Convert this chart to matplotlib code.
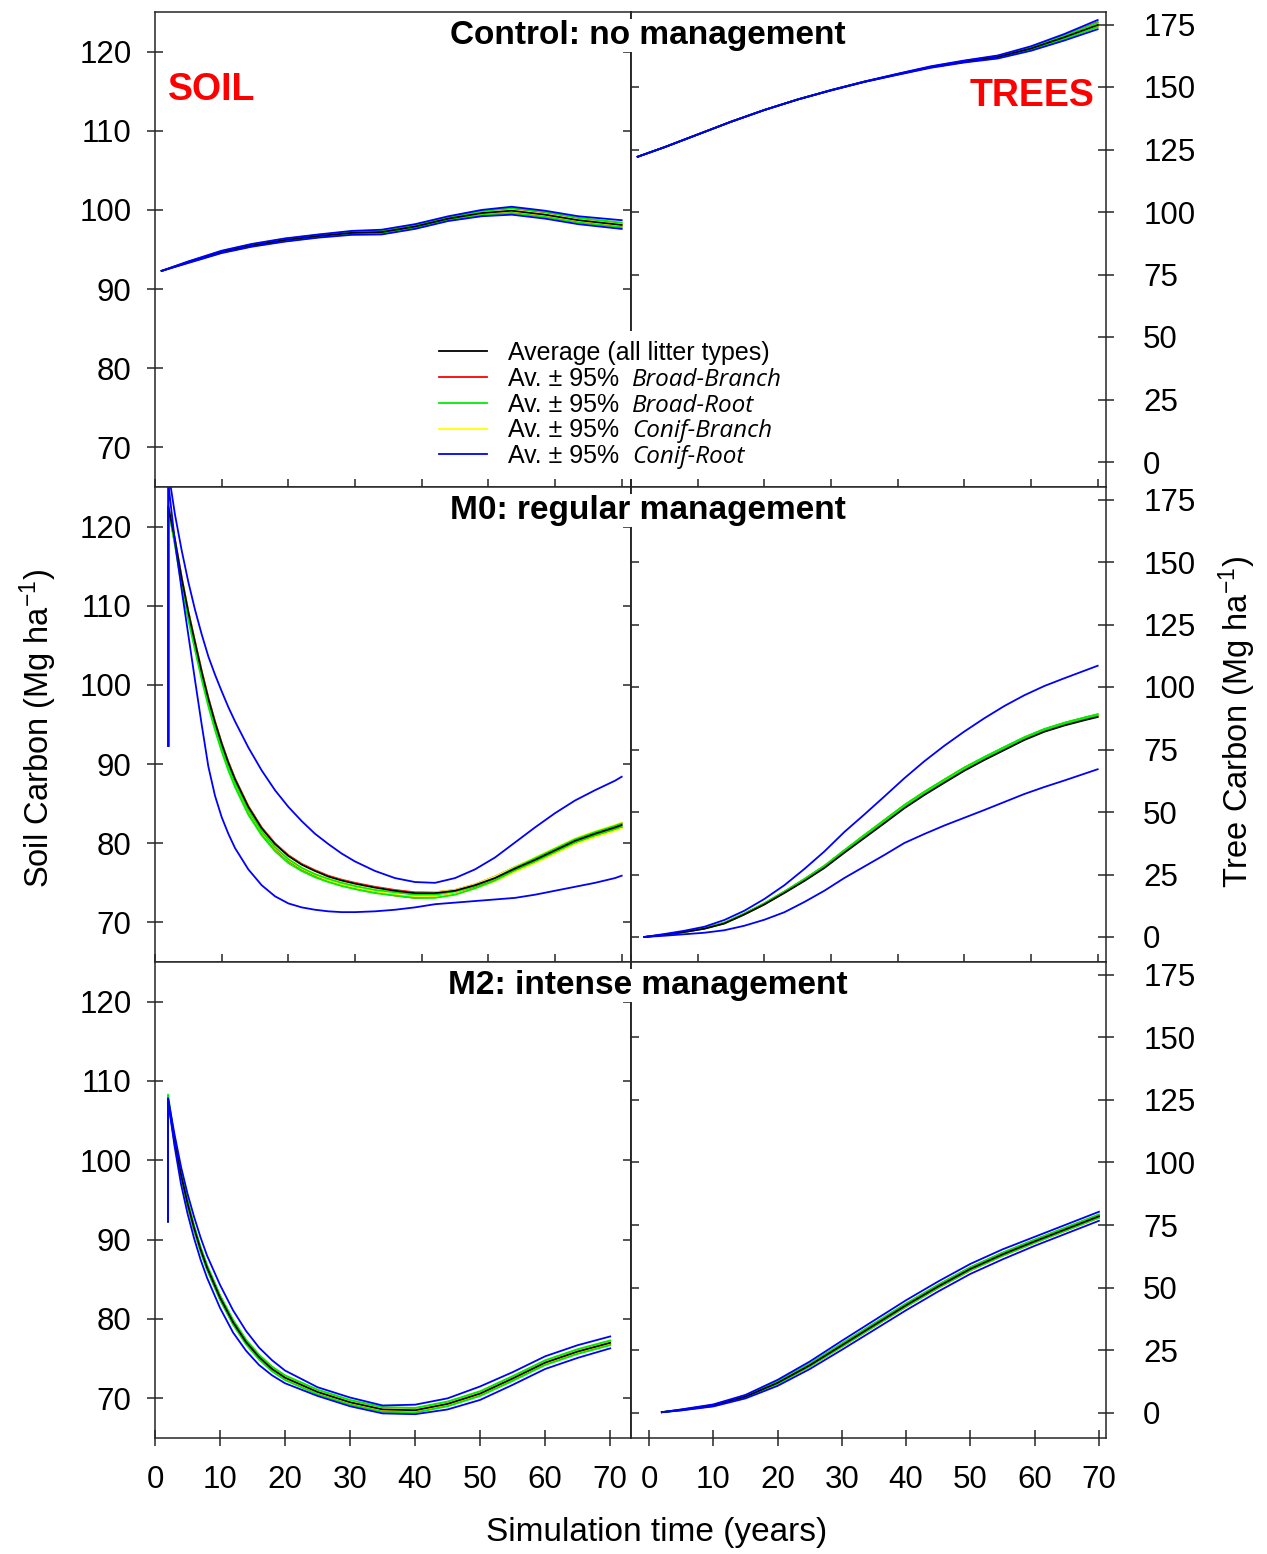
import matplotlib
matplotlib.use("Agg")
import matplotlib.pyplot as plt
from matplotlib.lines import Line2D

plt.rcParams['font.family'] = ['Liberation Sans', 'DejaVu Sans']
plt.rcParams['mathtext.fontset'] = 'custom'
plt.rcParams['mathtext.rm'] = 'Liberation Sans'
plt.rcParams['mathtext.it'] = 'Liberation Sans:italic'

# ---------------- data ----------------
ROW_TITLES = ["Control: no management", "M0: regular management", "M2: intense management"]
LEGEND_LABELS = ["Average (all litter types)", "Av. ± 95%", "Av. ± 95%", "Av. ± 95%", "Av. ± 95%"]
LEGEND_ITALIC = ["", "Broad-Branch", "Broad-Root", "Conif-Branch", "Conif-Root"]
SOIL_YTICKS = [70, 80, 90, 100, 110, 120]
TREE_YTICKS = [0, 25, 50, 75, 100, 125, 150, 175]
XTICKS = [0, 10, 20, 30, 40, 50, 60, 70]

# Control: soil
CTRL_SOIL_X = [1, 5, 10, 14.5, 19.5, 24.5, 29.5, 34, 39, 44, 49, 53.5, 58.5, 63.5, 70]
CTRL_SOIL_AVG = [92.3, 93.4, 94.7, 95.5, 96.2, 96.7, 97.1, 97.2, 97.9, 98.9, 99.6, 99.9, 99.4, 98.7, 98.1]
CTRL_SOIL_BB_HI = [92.3, 93.45, 94.75, 95.6, 96.3, 96.8, 97.2, 97.3, 98.0, 99.0, 99.8, 100.1, 99.6, 98.9, 98.3]
CTRL_SOIL_BB_LO = [92.3, 93.35, 94.65, 95.45, 96.1, 96.6, 97.0, 97.1, 97.8, 98.8, 99.4, 99.7, 99.2, 98.5, 97.9]
CTRL_SOIL_BR_HI = [92.3, 93.45, 94.8, 95.65, 96.35, 96.85, 97.25, 97.35, 98.05, 99.05, 99.85, 100.25, 99.75, 99.0, 98.4]
CTRL_SOIL_BR_LO = [92.3, 93.35, 94.6, 95.4, 96.05, 96.55, 96.95, 97.05, 97.75, 98.75, 99.35, 99.6, 99.1, 98.4, 97.8]
CTRL_SOIL_CB_HI = [92.3, 93.45, 94.75, 95.55, 96.25, 96.75, 97.15, 97.3, 97.95, 98.95, 99.7, 100.0, 99.5, 98.8, 98.2]
CTRL_SOIL_CB_LO = [92.3, 93.35, 94.65, 95.45, 96.15, 96.65, 97.05, 97.1, 97.85, 98.85, 99.5, 99.8, 99.3, 98.6, 98.0]
CTRL_SOIL_CR_HI = [92.3, 93.5, 94.85, 95.7, 96.4, 96.9, 97.35, 97.5, 98.2, 99.2, 100.0, 100.4, 99.9, 99.2, 98.7]
CTRL_SOIL_CR_LO = [92.3, 93.3, 94.55, 95.35, 96.0, 96.5, 96.85, 96.9, 97.6, 98.6, 99.2, 99.4, 98.9, 98.2, 97.6]

# Control: trees
CTRL_TREE_X = [1, 5, 10, 15, 20, 25, 30, 35, 40, 45, 50, 55, 60, 65, 70]
CTRL_TREE_AVG = [122.1, 125.9, 131.0, 136.1, 140.8, 145.0, 148.7, 152.1, 155.1, 158.0, 160.2, 162.0, 165.4, 169.9, 174.8]
CTRL_TREE_BB_HI = [122.1, 125.9, 131.0, 136.1, 140.8, 145.0, 148.7, 152.1, 155.2, 158.1, 160.4, 162.4, 165.9, 170.6, 175.9]
CTRL_TREE_BB_LO = [122.1, 125.9, 131.0, 136.1, 140.8, 145.0, 148.7, 152.1, 155.0, 157.9, 160.0, 161.7, 165.0, 169.4, 174.2]
CTRL_TREE_BR_HI = [122.1, 125.9, 131.0, 136.1, 140.8, 145.0, 148.7, 152.1, 155.2, 158.1, 160.4, 162.3, 165.8, 170.5, 175.7]
CTRL_TREE_BR_LO = [122.1, 125.9, 131.0, 136.1, 140.8, 145.0, 148.7, 152.1, 155.0, 157.9, 160.0, 161.6, 164.9, 169.2, 174.0]
CTRL_TREE_CB_HI = [122.1, 125.9, 131.0, 136.1, 140.8, 145.0, 148.7, 152.1, 155.2, 158.1, 160.3, 162.2, 165.7, 170.3, 175.5]
CTRL_TREE_CB_LO = [122.1, 125.9, 131.0, 136.1, 140.8, 145.0, 148.7, 152.1, 155.0, 157.9, 160.1, 161.8, 165.1, 169.5, 174.3]
CTRL_TREE_CR_HI = [122.1, 125.9, 131.0, 136.1, 140.8, 145.0, 148.8, 152.2, 155.3, 158.3, 160.6, 162.6, 166.3, 171.2, 176.8]
CTRL_TREE_CR_LO = [122.1, 125.9, 131.0, 136.1, 140.8, 145.0, 148.6, 152.0, 154.9, 157.7, 159.8, 161.4, 164.5, 168.6, 173.1]

# M0: soil
M0_SOIL_X = [2, 2, 3, 4, 5, 6, 7, 8, 9, 10, 11, 12, 14, 16, 18, 20, 22, 24, 26, 28, 30, 33, 36, 39,
             42, 45, 48, 51, 54, 57, 60, 63, 66, 69, 70]
M0_SOIL_AVG = [92.3, 122.5, 118.3, 113.5, 109.2, 105.4, 101.7, 98.3, 95.3, 92.6, 90.2, 88.1, 84.6, 81.9,
               79.9, 78.4, 77.3, 76.5, 75.8, 75.3, 74.9, 74.4, 74.0, 73.7, 73.7, 74.0, 74.7, 75.6, 76.8,
               77.9, 79.1, 80.3, 81.2, 82.0, 82.3]
M0_SOIL_BB_HI = [92.3, 122.6, 118.4, 113.6, 109.3, 105.5, 101.8, 98.4, 95.4, 92.7, 90.3, 88.2, 84.7, 82.0,
                 80.0, 78.5, 77.4, 76.6, 75.9, 75.4, 75.0, 74.5, 74.1, 73.8, 73.8, 74.1, 74.8, 75.8, 77.0,
                 78.1, 79.3, 80.5, 81.4, 82.2, 82.5]
M0_SOIL_BB_LO = [92.3, 122.4, 117.8, 112.9, 108.6, 104.8, 101.1, 97.7, 94.7, 92.0, 89.6, 87.5, 84.0, 81.3,
                 79.3, 77.8, 76.7, 75.9, 75.2, 74.7, 74.3, 73.8, 73.4, 73.1, 73.2, 73.6, 74.4, 75.3, 76.5,
                 77.6, 78.8, 80.0, 80.9, 81.7, 82.0]
M0_SOIL_BR_HI = [92.3, 122.5, 118.0, 113.2, 108.9, 105.1, 101.3, 97.9, 94.9, 92.2, 89.8, 87.7, 84.2, 81.5,
                 79.5, 78.0, 76.9, 76.1, 75.5, 75.0, 74.6, 74.1, 73.8, 73.5, 73.5, 73.9, 74.6, 75.6, 76.9,
                 78.1, 79.3, 80.5, 81.4, 82.2, 82.5]
M0_SOIL_BR_LO = [92.3, 122.3, 117.6, 112.5, 108.2, 104.4, 100.7, 97.3, 94.3, 91.6, 89.2, 87.1, 83.6, 81.0,
                 79.0, 77.5, 76.5, 75.7, 75.1, 74.6, 74.2, 73.7, 73.4, 73.1, 73.1, 73.5, 74.3, 75.3, 76.6,
                 77.7, 78.9, 80.1, 81.0, 81.8, 82.1]
M0_SOIL_CB_HI = [92.3, 122.6, 118.3, 113.5, 109.2, 105.4, 101.7, 98.3, 95.3, 92.6, 90.2, 88.1, 84.6, 81.9,
                 79.9, 78.4, 77.3, 76.5, 75.8, 75.3, 74.9, 74.4, 74.0, 73.7, 73.8, 74.1, 74.8, 75.8, 77.0,
                 78.2, 79.4, 80.6, 81.5, 82.3, 82.6]
M0_SOIL_CB_LO = [92.3, 122.4, 117.9, 113.0, 108.7, 104.9, 101.2, 97.8, 94.8, 92.1, 89.7, 87.6, 84.1, 81.4,
                 79.4, 77.9, 76.8, 76.0, 75.3, 74.8, 74.4, 73.9, 73.5, 73.2, 73.2, 73.6, 74.3, 75.2, 76.4,
                 77.5, 78.7, 79.9, 80.8, 81.6, 81.9]
M0_SOIL_CR_HI = [92.3, 127.0, 121.5, 117.0, 113.0, 109.5, 106.4, 103.6, 101.3, 99.2, 97.2, 95.4, 92.1, 89.2,
                 86.7, 84.6, 82.8, 81.2, 79.9, 78.7, 77.7, 76.5, 75.6, 75.1, 75.0, 75.6, 76.7, 78.2, 80.1,
                 82.0, 83.8, 85.4, 86.7, 87.9, 88.4]
M0_SOIL_CR_LO = [92.3, 125.5, 118.0, 112.0, 106.3, 100.6, 95.0, 89.7, 86.0, 83.3, 81.2, 79.4, 76.7, 74.7,
                 73.3, 72.4, 71.9, 71.6, 71.4, 71.3, 71.3, 71.4, 71.6, 71.9, 72.3, 72.5, 72.7, 72.9, 73.1,
                 73.5, 74.0, 74.5, 75.0, 75.6, 75.9]

# M0: trees
M0_TREE_X = [2, 5, 8, 11, 14, 17, 20, 23, 26, 29, 32, 35, 38, 41, 44, 47, 50, 53, 56, 59, 62, 65, 68, 70]
M0_TREE_AVG = [0.0, 0.9, 2.0, 3.3, 5.4, 9.0, 13.0, 17.6, 22.4, 27.6, 33.7, 39.6, 45.5, 51.5, 56.8, 61.7,
               66.5, 70.8, 74.8, 78.8, 82.1, 84.6, 86.7, 88.0]
M0_TREE_BB_HI = [0.0, 0.9, 2.1, 3.5, 5.7, 9.3, 13.4, 18.1, 23.1, 28.4, 34.6, 40.7, 46.7, 52.7, 58.0, 62.9,
                 67.7, 71.9, 75.9, 79.8, 83.1, 85.6, 87.7, 89.0]
M0_TREE_BB_LO = [0.0, 0.9, 2.0, 3.4, 5.5, 9.1, 13.1, 17.8, 22.7, 27.9, 34.1, 40.0, 45.9, 51.9, 57.2, 62.1,
                 66.9, 71.2, 75.2, 79.2, 82.5, 85.0, 87.1, 88.4]
M0_TREE_BR_HI = [0.0, 0.9, 2.1, 3.5, 5.7, 9.4, 13.5, 18.2, 23.2, 28.5, 34.7, 40.8, 46.8, 52.8, 58.1, 63.0,
                 67.8, 72.0, 76.0, 79.9, 83.2, 85.7, 87.8, 89.1]
M0_TREE_BR_LO = [0.0, 0.9, 2.0, 3.4, 5.5, 9.2, 13.2, 17.9, 22.8, 28.0, 34.2, 40.1, 46.0, 52.0, 57.3, 62.2,
                 67.0, 71.3, 75.3, 79.3, 82.6, 85.1, 87.2, 88.5]
M0_TREE_CB_HI = [0.0, 0.9, 2.1, 3.5, 5.6, 9.3, 13.4, 18.0, 23.0, 28.3, 34.5, 40.6, 46.6, 52.6, 57.9, 62.8,
                 67.6, 71.8, 75.8, 79.7, 83.0, 85.5, 87.6, 88.9]
M0_TREE_CB_LO = [0.0, 0.9, 2.0, 3.4, 5.5, 9.1, 13.1, 17.8, 22.7, 27.9, 34.1, 40.0, 45.9, 51.9, 57.2, 62.1,
                 66.9, 71.1, 75.1, 79.1, 82.4, 84.9, 87.0, 88.3]
M0_TREE_CR_HI = [0.0, 1.2, 2.5, 4.1, 6.8, 10.5, 15.2, 20.7, 27.2, 34.2, 42.0, 49.0, 56.2, 63.5, 70.3, 76.5,
                 82.2, 87.5, 92.4, 96.7, 100.4, 103.5, 106.5, 108.5]
M0_TREE_CR_LO = [0.0, 0.5, 1.1, 1.7, 2.7, 4.5, 6.9, 9.9, 14.0, 18.5, 23.6, 28.2, 32.8, 37.6, 41.2, 44.6,
                 47.7, 50.8, 54.0, 57.2, 60.0, 62.6, 65.3, 67.1]

# M2: soil
M2_SOIL_X = [2, 2, 3, 4, 5, 6, 7, 8, 10, 12, 14, 16, 18, 20, 25, 30, 35, 40, 45, 50, 55, 60, 65, 70]
M2_SOIL_AVG = [92.3, 107.8, 102.5, 98.2, 94.6, 91.5, 88.8, 86.5, 82.7, 79.6, 77.1, 75.2, 73.7, 72.6, 70.8, 69.5, 68.6, 68.5, 69.3, 70.6, 72.5, 74.5, 75.9, 77.0]
M2_SOIL_BB_HI = [92.3, 108.0, 102.7, 98.4, 94.8, 91.7, 89.0, 86.7, 82.9, 79.8, 77.3, 75.4, 73.9, 72.8, 71.0, 69.7, 68.8, 68.7, 69.5, 70.8, 72.7, 74.7, 76.1, 77.2]
M2_SOIL_BB_LO = [92.3, 107.6, 102.3, 98.0, 94.4, 91.3, 88.6, 86.3, 82.5, 79.4, 76.9, 75.0, 73.5, 72.4, 70.6, 69.3, 68.4, 68.3, 69.1, 70.4, 72.3, 74.3, 75.7, 76.8]
M2_SOIL_BR_HI = [92.3, 108.3, 102.8, 98.5, 94.9, 91.8, 89.1, 86.8, 83.0, 79.9, 77.4, 75.5, 74.0, 72.9, 71.1, 69.8, 68.9, 68.8, 69.6, 70.9, 72.8, 74.8, 76.2, 77.3]
M2_SOIL_BR_LO = [92.3, 107.5, 102.2, 97.9, 94.3, 91.2, 88.5, 86.2, 82.4, 79.3, 76.8, 74.9, 73.4, 72.3, 70.5, 69.2, 68.3, 68.2, 69.0, 70.3, 72.2, 74.2, 75.6, 76.7]
M2_SOIL_CB_HI = [92.3, 108.0, 102.6, 98.3, 94.7, 91.6, 88.9, 86.6, 82.8, 79.7, 77.2, 75.3, 73.8, 72.7, 70.9, 69.6, 68.7, 68.6, 69.4, 70.7, 72.6, 74.6, 76.0, 77.1]
M2_SOIL_CB_LO = [92.3, 107.6, 102.4, 98.1, 94.5, 91.4, 88.7, 86.4, 82.6, 79.5, 77.0, 75.1, 73.6, 72.5, 70.7, 69.4, 68.5, 68.4, 69.2, 70.5, 72.4, 74.4, 75.8, 76.9]
M2_SOIL_CR_HI = [92.3, 107.8, 103.3, 99.2, 95.8, 92.9, 90.3, 88.0, 84.3, 81.1, 78.5, 76.4, 74.8, 73.5, 71.4, 70.1, 69.1, 69.2, 70.0, 71.5, 73.3, 75.3, 76.7, 77.8]
M2_SOIL_CR_LO = [92.3, 107.6, 101.8, 97.0, 93.3, 90.2, 87.5, 85.2, 81.4, 78.3, 76.0, 74.2, 72.9, 71.9, 70.3, 69.0, 68.1, 68.0, 68.6, 69.8, 71.7, 73.7, 75.1, 76.3]

# M2: trees
M2_TREE_X = [2, 5, 10, 15, 20, 25, 30, 35, 40, 45, 50, 55, 60, 65, 70]
M2_TREE_AVG = [0.3, 1.2, 3.0, 6.5, 12.0, 19.0, 27.0, 35.0, 43.0, 50.5, 57.5, 63.3, 68.5, 73.5, 78.5]
M2_TREE_BB_HI = [0.3, 1.3, 3.2, 6.8, 12.4, 19.5, 27.6, 35.6, 43.6, 51.1, 58.1, 63.9, 69.1, 74.1, 79.1]
M2_TREE_BB_LO = [0.3, 1.1, 2.8, 6.2, 11.6, 18.5, 26.4, 34.4, 42.4, 49.9, 56.9, 62.7, 67.9, 72.9, 77.9]
M2_TREE_BR_HI = [0.3, 1.3, 3.2, 6.9, 12.5, 19.6, 27.7, 35.7, 43.7, 51.2, 58.2, 64.0, 69.2, 74.2, 79.2]
M2_TREE_BR_LO = [0.3, 1.1, 2.8, 6.3, 11.7, 18.6, 26.5, 34.5, 42.5, 50.0, 57.0, 62.8, 68.0, 73.0, 78.0]
M2_TREE_CB_HI = [0.3, 1.3, 3.1, 6.7, 12.3, 19.4, 27.5, 35.5, 43.5, 51.0, 58.0, 63.8, 69.0, 74.0, 79.0]
M2_TREE_CB_LO = [0.3, 1.1, 2.9, 6.3, 11.7, 18.6, 26.5, 34.5, 42.5, 50.0, 57.0, 62.8, 68.0, 73.0, 78.0]
M2_TREE_CR_HI = [0.3, 1.4, 3.4, 7.2, 13.2, 20.5, 28.8, 36.9, 45.0, 52.5, 59.5, 65.3, 70.3, 75.3, 80.3]
M2_TREE_CR_LO = [0.3, 1.0, 2.6, 5.8, 10.8, 17.5, 25.2, 33.1, 41.0, 48.5, 55.5, 61.3, 66.7, 71.7, 76.7]

# ---------------- styling ----------------
C_AVG, C_BB, C_BR, C_CB, C_CR = "#000000", "#ff0000", "#00ee00", "#ffff00", "#0000ff"
SPINE = "#262626"
LW = 1.3
TICK_FS = 22.5

W, H = 1267, 1554
fig = plt.figure(figsize=(W / 100, H / 100), dpi=100)


def rect(x0, x1, y0, y1):
    return [x0 / W, 1 - y1 / H, (x1 - x0) / W, (y1 - y0) / H]


ROWS = [(12, 487), (487, 962), (962, 1438)]
XL, XM, XR = 155, 631, 1106

PANELS = [
    (CTRL_SOIL_X, CTRL_SOIL_AVG, [(CTRL_SOIL_BB_HI, CTRL_SOIL_BB_LO), (CTRL_SOIL_CB_HI, CTRL_SOIL_CB_LO),
                                  (CTRL_SOIL_BR_HI, CTRL_SOIL_BR_LO), (CTRL_SOIL_CR_HI, CTRL_SOIL_CR_LO)],
     CTRL_TREE_X, CTRL_TREE_AVG, [(CTRL_TREE_BB_HI, CTRL_TREE_BB_LO), (CTRL_TREE_CB_HI, CTRL_TREE_CB_LO),
                                  (CTRL_TREE_BR_HI, CTRL_TREE_BR_LO), (CTRL_TREE_CR_HI, CTRL_TREE_CR_LO)]),
    (M0_SOIL_X, M0_SOIL_AVG, [(M0_SOIL_BB_HI, M0_SOIL_BB_LO), (M0_SOIL_CB_HI, M0_SOIL_CB_LO),
                              (M0_SOIL_BR_HI, M0_SOIL_BR_LO), (M0_SOIL_CR_HI, M0_SOIL_CR_LO)],
     M0_TREE_X, M0_TREE_AVG, [(M0_TREE_BB_HI, M0_TREE_BB_LO), (M0_TREE_CB_HI, M0_TREE_CB_LO),
                              (M0_TREE_BR_HI, M0_TREE_BR_LO), (M0_TREE_CR_HI, M0_TREE_CR_LO)]),
    (M2_SOIL_X, M2_SOIL_AVG, [(M2_SOIL_BB_HI, M2_SOIL_BB_LO), (M2_SOIL_CB_HI, M2_SOIL_CB_LO),
                              (M2_SOIL_BR_HI, M2_SOIL_BR_LO), (M2_SOIL_CR_HI, M2_SOIL_CR_LO)],
     M2_TREE_X, M2_TREE_AVG, [(M2_TREE_BB_HI, M2_TREE_BB_LO), (M2_TREE_CB_HI, M2_TREE_CB_LO),
                              (M2_TREE_BR_HI, M2_TREE_BR_LO), (M2_TREE_CR_HI, M2_TREE_CR_LO)]),
]
BAND_COLORS = [C_BB, C_CB, C_BR, C_CR]


def draw(ax, x, avg, bands):
    # red, yellow, green first, then average, then blue on top
    for (hi, lo), c in zip(bands[:3], BAND_COLORS[:3]):
        ax.plot(x, hi, color=c, lw=LW)
        ax.plot(x, lo, color=c, lw=LW)
    ax.plot(x, avg, color=C_AVG, lw=LW)
    hi, lo = bands[3]
    ax.plot(x, hi, color=C_CR, lw=LW)
    ax.plot(x, lo, color=C_CR, lw=LW)


def style_spines(ax):
    for s in ax.spines.values():
        s.set_linewidth(1.1)
        s.set_color(SPINE)


for r, (y0, y1) in enumerate(ROWS):
    sx, savg, sb, tx, tavg, tb = PANELS[r]
    last = (r == 2)
    # ---- soil panel ----
    axs = fig.add_axes(rect(XL, XM, y0, y1))
    draw(axs, sx, savg, sb)
    axs.set_ylim(65, 125)
    axs.set_xlim(0, 73.2 if last else 71.4)
    axs.set_yticks(SOIL_YTICKS)
    axs.set_xticks(XTICKS)
    style_spines(axs)
    axs.tick_params(axis='y', direction='inout', length=11.5, width=1.1, color=SPINE,
                    labelsize=TICK_FS, pad=11)
    sec = axs.secondary_yaxis('right')
    sec.set_yticks(SOIL_YTICKS)
    sec.tick_params(direction='in', length=6, width=1.1, color=SPINE, labelright=False)
    sec.spines['right'].set_linewidth(1.1)
    sec.spines['right'].set_color(SPINE)
    if last:
        axs.tick_params(axis='x', direction='inout', length=11.5, width=1.1, color=SPINE,
                        labelsize=TICK_FS, pad=14)
    else:
        axs.tick_params(axis='x', direction='in', length=6, width=1.1, color=SPINE,
                        labelbottom=False)
    # ---- tree panel ----
    axt = fig.add_axes(rect(XM, XR, y0, y1))
    draw(axt, tx, tavg, tb)
    axt.set_ylim(-10, 180)
    if last:
        axt.set_xlim(-2.8, 71.1)
    else:
        axt.set_xlim(0, 71.25)
    axt.set_yticks(TREE_YTICKS)
    axt.set_xticks(XTICKS)
    style_spines(axt)
    axt.yaxis.tick_right()
    axt.tick_params(axis='y', direction='inout', length=11.5, width=1.1, color=SPINE,
                    labelsize=TICK_FS, pad=21)
    for lab in axt.get_yticklabels():
        lab.set_horizontalalignment('left')
    sec2 = axt.secondary_yaxis('left')
    sec2.set_yticks(TREE_YTICKS)
    sec2.tick_params(direction='in', length=6, width=1.1, color=SPINE, labelleft=False)
    sec2.spines['left'].set_linewidth(1.1)
    sec2.spines['left'].set_color(SPINE)
    if last:
        axt.tick_params(axis='x', direction='inout', length=11.5, width=1.1, color=SPINE,
                        labelsize=TICK_FS, pad=14)
    else:
        axt.tick_params(axis='x', direction='in', length=6, width=1.1, color=SPINE,
                        labelbottom=False)
    if r == 0:
        axs.text(0.028, 0.815, "SOIL", transform=axs.transAxes, color='#ff0000',
                 fontsize=27, fontweight='bold', ha='left', va='baseline')
        axt.text(0.975, 0.802, "TREES", transform=axt.transAxes, color='#ff0000',
                 fontsize=27, fontweight='bold', ha='right', va='baseline')
    # title with white background hiding the panel divider
    fig.text(648 / W, 1 - (y0 + 32) / H, ROW_TITLES[r], ha='center', va='baseline',
             fontsize=24, fontweight='bold', zorder=10,
             bbox=dict(facecolor='white', edgecolor='none', boxstyle='square,pad=0.02'))

# axis labels
fig.text(38 / W, 1 - 728 / H, r"Soil Carbon (Mg ha$^{-1}$)", rotation=90,
         ha='center', va='center', fontsize=23.5)
fig.text(1237 / W, 1 - 722 / H, r"Tree Carbon (Mg ha$^{-1}$)", rotation=90,
         ha='center', va='center', fontsize=23.5)
fig.text(657 / W, 1 - 1532 / H, "Simulation time (years)", ha='center', va='center',
         fontsize=24)

# legend (italic litter-type names appended right after each label)
handles = [Line2D([], [], color=c, lw=1.3) for c in [C_AVG, C_BB, C_BR, C_CB, C_CR]]
leg = fig.legend(handles, LEGEND_LABELS, loc='upper left',
                 bbox_to_anchor=(428 / W, 1 - 330.5 / H), borderaxespad=0,
                 fontsize=18, frameon=True, facecolor='white', edgecolor='none',
                 framealpha=1, fancybox=False, borderpad=0.42, labelspacing=0.07,
                 handlelength=1.95, handletextpad=0.82)
leg.set_zorder(8)

fig.canvas.draw()
renderer = fig.canvas.get_renderer()
inv = fig.transFigure.inverted()
for t, name in zip(leg.get_texts(), LEGEND_ITALIC):
    if not name:
        continue
    bb = t.get_window_extent(renderer)
    bx, by = t.get_transform().transform(t.get_position())
    fx, fy = inv.transform((bb.x1 + 13, by))
    fig.text(fx, fy, name, fontsize=17.5, style='italic', family=['Open Sans', 'DejaVu Sans'],
             ha='left', va='baseline', zorder=9)

fig.savefig("out.png", dpi=100, facecolor='white')
